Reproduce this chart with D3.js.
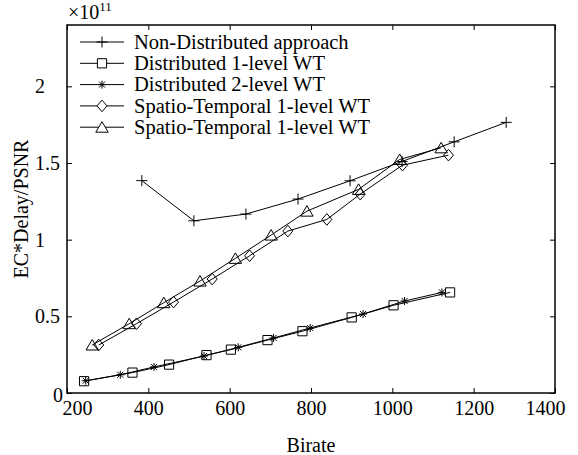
<!DOCTYPE html>
<html>
<head>
<meta charset="utf-8">
<script src="https://cdn.jsdelivr.net/npm/d3@7"></script>
<style>
  body { margin: 0; background: #fff; }
  svg { display: block; font-family: "Liberation Serif", "Times New Roman", serif; }
</style>
</head>
<body>
<svg id="drawing_region"></svg>
<script>
// values
const nonDistX = [384, 512, 640, 768, 896, 1024, 1152, 1280];
const nonDistY = [1.385, 1.123, 1.167, 1.265, 1.384, 1.51, 1.638, 1.765];
const dist1X = [242, 361, 451, 543, 603, 693, 779, 900, 1003, 1142];
const dist1Y = [0.077, 0.133, 0.185, 0.247, 0.283, 0.345, 0.403, 0.493, 0.572, 0.656];
const dist2X = [246, 331, 414, 537, 621, 708, 798, 928, 1030, 1122];
const dist2Y = [0.080, 0.119, 0.170, 0.241, 0.298, 0.359, 0.424, 0.515, 0.600, 0.656];
const st1X = [278, 371, 462, 557, 649, 743, 839, 921, 1025, 1138];
const st1Y = [0.313, 0.452, 0.593, 0.743, 0.895, 1.056, 1.132, 1.297, 1.486, 1.551];
const st2X = [262, 353, 438, 527, 614, 702, 790, 917, 1018, 1120];
const st2Y = [0.313, 0.452, 0.589, 0.730, 0.878, 1.030, 1.186, 1.328, 1.523, 1.599];

const seriesNames = ["Non-Distributed approach", "Distributed 1-level WT", "Distributed 2-level WT",
                     "Spatio-Temporal 1-level WT", "Spatio-Temporal 1-level WT"];
const xTicks = [200, 400, 600, 800, 1000, 1200, 1400];
const yTicks = [0, 0.5, 1, 1.5, 2];

const series = [
  { name: seriesNames[0], xs: nonDistX, ys: nonDistY, marker: "plus" },
  { name: seriesNames[1], xs: dist1X, ys: dist1Y, marker: "square" },
  { name: seriesNames[2], xs: dist2X, ys: dist2Y, marker: "star" },
  { name: seriesNames[3], xs: st1X, ys: st1Y, marker: "diamond" },
  { name: seriesNames[4], xs: st2X, ys: st2Y, marker: "triangle" }
];

const width = 578, height = 455;
const margin = { top: 25, right: 23, bottom: 62, left: 67 };
const fontSize = 20.5;

const svg = d3.select("#drawing_region").attr("width", width).attr("height", height);

const x = d3.scaleLinear().domain([200, 1400]).range([margin.left, width - margin.right]);
const y = d3.scaleLinear().domain([0, 2.4]).range([height - margin.bottom, margin.top]);

// marker shapes (relative paths)
function markerPath(type) {
  switch (type) {
    case "plus": return "M-5.5,0H5.5M0,-5.5V5.5";
    case "square": return "M-4.6,-4.6H4.6V4.6H-4.6Z";
    case "star": return "M-4,0H4M0,-4V4M-3,-3L3,3M-3,3L3,-3";
    case "diamond": return "M0,-5.8L5,0L0,5.8L-5,0Z";
    case "triangle": return "M0,-5.5L6.2,5L-6.2,5Z";
  }
}

// axes, ticks pointing inward
const xAxis = d3.axisBottom(x).tickValues(xTicks).tickSize(-5).tickPadding(8).tickFormat(d3.format("d"));
const xAxisTop = d3.axisTop(x).tickValues(xTicks).tickSize(-5).tickFormat("");
const yAxis = d3.axisLeft(y).tickValues(yTicks).tickSize(-5).tickFormat(d => d);
const yAxisRight = d3.axisRight(y).tickValues(yTicks).tickSize(-5).tickFormat("");

const gx = svg.append("g").attr("transform", `translate(0,${y(0)})`).call(xAxis);
gx.selectAll("text")
  .attr("dx", d => d === 200 ? 10 : d === 1400 ? -10 : 0);
svg.append("g").attr("transform", `translate(0,${y(2.4)})`).call(xAxisTop);
const gy = svg.append("g").attr("transform", `translate(${x(200)},0)`).call(yAxis);
gy.selectAll("text")
  .attr("text-anchor", d => d === 0 ? "end" : "start")
  .attr("x", d => d === 0 ? -4 : -32)
  .attr("dy", d => d === 0 ? "0.4em" : "0.32em");
svg.append("g").attr("transform", `translate(${x(1400)},0)`).call(yAxisRight);

svg.selectAll(".domain").remove();
svg.selectAll(".tick line").attr("stroke", "#000").attr("stroke-width", 1);
svg.selectAll(".tick text")
  .attr("fill", "#000")
  .attr("font-size", 20)
  .attr("font-family", "Liberation Serif, Times New Roman, serif");

// plot box
svg.append("rect")
  .attr("x", x(200)).attr("y", y(2.4))
  .attr("width", x(1400) - x(200)).attr("height", y(0) - y(2.4))
  .attr("fill", "none").attr("stroke", "#000").attr("stroke-width", 1.5);

// series lines and markers
const line = d3.line().x(d => x(d[0])).y(d => y(d[1]));
series.forEach(s => {
  const pts = s.xs.map((v, i) => [v, s.ys[i]]);
  svg.append("path")
    .attr("d", line(pts))
    .attr("fill", "none").attr("stroke", "#000").attr("stroke-width", 1);
  svg.append("g").selectAll("path")
    .data(pts)
    .join("path")
    .attr("transform", d => `translate(${x(d[0])},${y(d[1])})`)
    .attr("d", markerPath(s.marker))
    .attr("fill", "none").attr("stroke", "#000").attr("stroke-width", 1);
});

// legend
const legend = svg.append("g");
series.forEach((s, i) => {
  const ly = 42 + i * 21.3;
  legend.append("line")
    .attr("x1", 80).attr("x2", 124).attr("y1", ly).attr("y2", ly)
    .attr("stroke", "#000").attr("stroke-width", 1);
  legend.append("path")
    .attr("transform", `translate(102,${ly})`)
    .attr("d", markerPath(s.marker))
    .attr("fill", "#fff").attr("stroke", "#000").attr("stroke-width", 1);
  legend.append("text")
    .attr("x", 134).attr("y", ly).attr("dy", "0.33em")
    .attr("font-size", fontSize)
    .text(s.name);
});

// axis labels
svg.append("text")
  .attr("x", (x(200) + x(1400)) / 2).attr("y", 452)
  .attr("text-anchor", "middle").attr("font-size", 20)
  .text("Birate");

svg.append("text")
  .attr("transform", `translate(28,${(y(0) + y(2.4)) / 2}) rotate(-90)`)
  .attr("text-anchor", "middle").attr("font-size", 20)
  .text("EC*Delay/PSNR");

// exponent
const expo = svg.append("text").attr("x", 68).attr("y", 19).attr("font-size", 20);
expo.append("tspan").text("\u00d710");
expo.append("tspan").attr("font-size", 13).attr("dy", -8).text("11");
</script>
</body>
</html>
